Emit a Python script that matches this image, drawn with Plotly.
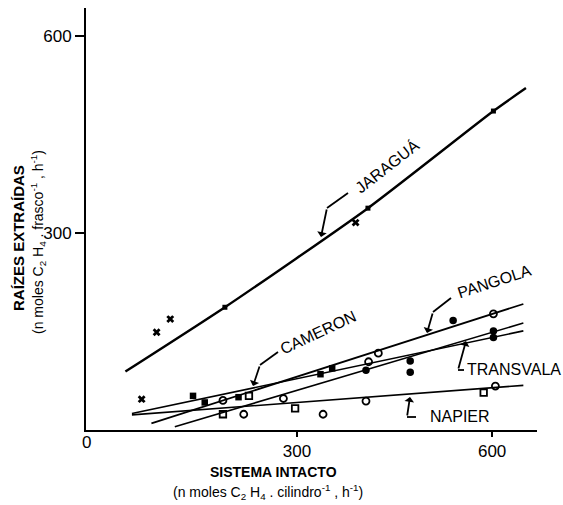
import plotly.graph_objects as go

# ---------------- data ----------------
# fitted lines
jaragua_line_x = [36, 189, 409, 602, 652]
jaragua_line_y = [89, 187, 338, 486, 521]
pangola_line_x = [76, 648]
pangola_line_y = [10, 192]
transvala_line_x = [112, 648]
transvala_line_y = [5, 163]
cameron_line_x = [46, 648]
cameron_line_y = [25, 151]
napier_line_x = [46, 648]
napier_line_y = [23, 68]

# observed points, grouped by symbol
cross_x = [84, 105, 390, 61]
cross_y = [149, 169, 316, 47]
online_x = [189, 409, 602]
online_y = [187, 338, 486]
filled_sq_x = [140, 158, 210, 336, 354]
filled_sq_y = [52, 42, 50, 85, 94]
open_circ_x = [186, 218, 279, 340, 410, 425, 406, 602, 605]
open_circ_y = [45, 24, 48, 24, 104, 117, 44, 177, 67]
open_sq_x = [186, 297, 587, 226]
open_sq_y = [24, 33, 57, 52]
filled_circ_x = [406, 474, 474, 540, 602, 602]
filled_circ_y = [91, 105, 88, 167, 151, 141]

x_ticks = [300, 600]
y_ticks = [300, 600]
x_range = [-24.6, 669]
y_range = [0, 643]

W, H = 563, 505
ML, MR, MT, MB = 86, 26, 8, 75
PW, PH = W - ML - MR, H - MT - MB
FONT = "Arial, Liberation Sans, sans-serif"


def P(px, py):
    """pixel position in the picture -> paper coordinates"""
    return (px - ML) / PW, (H - MB - py) / PH


fig = go.Figure()

for lx, ly, w in [
    (jaragua_line_x, jaragua_line_y, 2.4),
    (pangola_line_x, pangola_line_y, 1.8),
    (transvala_line_x, transvala_line_y, 1.6),
    (cameron_line_x, cameron_line_y, 1.6),
    (napier_line_x, napier_line_y, 1.6),
]:
    fig.add_trace(go.Scatter(x=lx, y=ly, mode="lines",
                             line=dict(color="black", width=w, shape="spline", smoothing=0.6),
                             hoverinfo="skip", showlegend=False))

marker_sets = [
    (cross_x, cross_y, dict(symbol="x", size=7, color="black", line=dict(width=0))),
    (online_x, online_y, dict(symbol="square", size=5, color="black")),
    (filled_sq_x, filled_sq_y, dict(symbol="square", size=6.5, color="black")),
    (open_circ_x, open_circ_y, dict(symbol="circle-open", size=7, color="black", line=dict(width=1.8))),
    (open_sq_x, open_sq_y, dict(symbol="square-open", size=6.5, color="black", line=dict(width=1.8))),
    (filled_circ_x, filled_circ_y, dict(symbol="circle", size=7.5, color="black")),
]
for mx, my, mk in marker_sets:
    fig.add_trace(go.Scatter(x=mx, y=my, mode="markers", marker=mk,
                             hoverinfo="skip", showlegend=False))

annotations = []
shapes = []


def text(px, py, s, size=16, angle=0, xanchor="center", bold=False):
    x, y = P(px, py)
    if bold:
        s = "<b>" + s + "</b>"
    annotations.append(dict(x=x, y=y, xref="paper", yref="paper", text=s, showarrow=False,
                            textangle=angle, xanchor=xanchor, yanchor="middle",
                            font=dict(family=FONT, size=size, color="black")))


def leader(points):
    """polyline in pixel coords; last point is the arrow tip"""
    if len(points) > 2:
        path = ""
        for i, (px, py) in enumerate(points[:-1]):
            x, y = P(px, py)
            path += ("M" if i == 0 else " L") + f" {x:.5f} {y:.5f}"
        shapes.append(dict(type="path", xref="paper", yref="paper", path=path,
                           line=dict(color="black", width=1.8)))
    sx, sy = points[-2]
    tx, ty = points[-1]
    x, y = P(tx, ty)
    annotations.append(dict(x=x, y=y, xref="paper", yref="paper", text="", showarrow=True,
                            ax=sx - tx, ay=sy - ty, arrowhead=1, arrowsize=0.9,
                            arrowwidth=1.8, arrowcolor="black"))


# series labels
text(387, 166, "JARAGUÁ", angle=-38)
leader([(348, 193), (327, 208), (321, 237)])
text(494, 281, "PANGOLA", angle=-18)
leader([(451, 298), (433, 312), (427, 333)])
text(318, 332, "CAMERON", angle=-25)
leader([(278, 352), (260, 365), (253, 386)])
text(465, 369, "TRANSVALA", xanchor="left")
leader([(464, 370), (458, 370), (466, 341)])
text(428, 416, "NAPIER", xanchor="left")
leader([(416, 417), (407, 417), (410, 397)])

# origin label
text(86, 443, "0", size=17)

# axis titles
text(273, 472, "SISTEMA INTACTO", size=14, bold=True)
text(268, 492, "(n moles C<sub>2</sub> H<sub>4</sub> . cilindro<sup>-1</sup> , h<sup>-1</sup>)", size=14)
text(19, 238, "RAÍZES EXTRAÍDAS", size=15, angle=-90, bold=True)
text(38, 242, "(n moles C<sub>2</sub> H<sub>4</sub> . frasco<sup>-1</sup> , h<sup>-1</sup>)", size=14, angle=-90)

fig.update_layout(
    width=W, height=H,
    margin=dict(l=ML, r=MR, t=MT, b=MB, pad=0),
    paper_bgcolor="white", plot_bgcolor="white",
    font=dict(family=FONT, color="black"),
    xaxis=dict(range=x_range, tickvals=x_ticks, ticks="outside", ticklen=5, tickwidth=1.5,
               tickcolor="black", showline=True, linewidth=2, linecolor="black",
               showgrid=False, zeroline=False, tickfont=dict(size=17, family=FONT)),
    yaxis=dict(range=y_range, tickvals=y_ticks, ticks="outside", ticklen=9, tickwidth=1.5,
               tickcolor="black", showline=True, linewidth=2, linecolor="black",
               showgrid=False, zeroline=False, tickfont=dict(size=17, family=FONT)),
    annotations=annotations, shapes=shapes,
)

fig.write_html("out.html", config={"displayModeBar": False},
               post_script="document.body.style.margin='0';document.body.style.padding='0';")
